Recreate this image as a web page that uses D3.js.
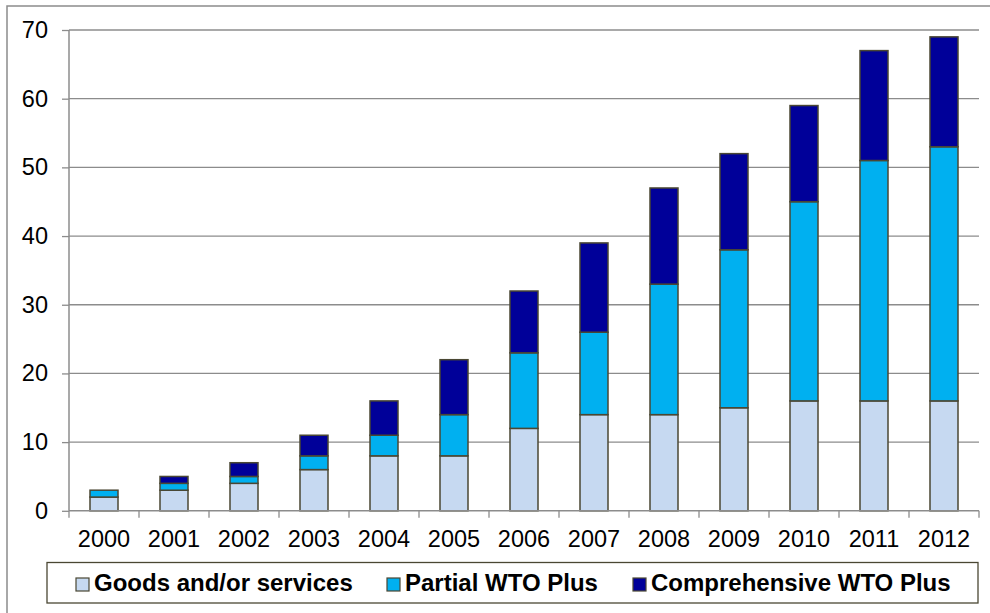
<!DOCTYPE html>
<html><head><meta charset="utf-8">
<script src="https://cdn.jsdelivr.net/npm/d3@7"></script>
<style>body{margin:0;background:#fff}svg{display:block}text{font-family:"Liberation Sans",Arial,sans-serif}</style>
</head><body>
<svg id="c" width="990" height="613"></svg>
<script>
const years = ["2000","2001","2002","2003","2004","2005","2006","2007","2008","2009","2010","2011","2012"];
const goods = [2,3,4,6,8,8,12,14,14,15,16,16,16];
const partial = [1,1,1,2,3,6,11,12,19,23,29,35,37];
const comprehensive = [0,1,2,3,5,8,9,13,14,14,14,16,16];
const seriesNames = ["Goods and/or services","Partial WTO Plus","Comprehensive WTO Plus"];
const colors = ["#c6d9f1","#00b0f0","#000099"];
const yTicks = [0,10,20,30,40,50,60,70];

const svg = d3.select("#c");
svg.append("rect").attr("x",7).attr("y",6).attr("width",1000).attr("height",620)
  .attr("fill","none").attr("stroke","#8c8c8c").attr("stroke-width",1.5);

const L=69, R=979, T=30, B=510.8;
const x = d3.scaleBand().domain(years).range([L,R]).paddingInner(0.6).paddingOuter(0.3);
const xb = d3.scaleBand().domain(years).range([L,R]);
const y = d3.scaleLinear().domain([0,70]).range([B,T]);

// gridlines
svg.append("g").selectAll("line").data(yTicks.filter(d=>d>0)).join("line")
  .attr("x1",L).attr("x2",R).attr("y1",d=>y(d)).attr("y2",d=>y(d))
  .attr("stroke","#8c8c8c").attr("stroke-width",1.3);

const table = years.map((yr,i)=>({year:yr,g:goods[i],p:partial[i],c:comprehensive[i]}));
const stack = d3.stack().keys(["g","p","c"])(table);
svg.append("g").selectAll("g").data(stack).join("g").attr("fill",(d,i)=>colors[i])
  .selectAll("rect").data(d=>d.filter(v=>v[1]-v[0]>0)).join("rect")
  .attr("x",d=>x(d.data.year)).attr("width",x.bandwidth())
  .attr("y",d=>y(d[1])).attr("height",d=>y(d[0])-y(d[1]))
  .attr("stroke","#4a4733").attr("stroke-width",1.5);

// y axis
const ya = svg.append("g").attr("transform",`translate(${L},0)`)
  .call(d3.axisLeft(y).tickValues(yTicks).tickSize(7).tickPadding(14));
ya.attr("font-size",null).attr("font-family",null);
ya.select(".domain").attr("stroke","#8c8c8c").attr("stroke-width",1.5).attr("d",`M0,${T}V${B}`);
ya.selectAll(".tick line").attr("stroke","#8c8c8c").attr("stroke-width",1.3);
ya.selectAll("text").style("font-size","23.5px").attr("fill","#000");

// x axis
const xa = svg.append("g").attr("transform",`translate(0,${B})`)
  .call(d3.axisBottom(xb).tickSize(0).tickPadding(19));
xa.attr("font-size",null).attr("font-family",null);
xa.select(".domain").attr("stroke","#8c8c8c").attr("stroke-width",1.5).attr("d",`M${L},0H${R}`);
xa.selectAll("text").style("font-size","23.5px").attr("fill","#000").attr("dy",null).attr("y",36.5);
xa.selectAll(".bt").data(d3.range(years.length+1)).join("line")
  .attr("x1",i=>L+i*xb.step()).attr("x2",i=>L+i*xb.step()).attr("y1",0).attr("y2",7)
  .attr("stroke","#8c8c8c").attr("stroke-width",1.3);

// legend
const lg = svg.append("g");
lg.append("rect").attr("x",47).attr("y",562.5).attr("width",931).attr("height",40.5)
  .attr("fill","#fff").attr("stroke","#4a4733").attr("stroke-width",1.3);
const lx = [76,387,633];
seriesNames.forEach((n,i)=>{
  lg.append("rect").attr("x",lx[i]).attr("y",578).attr("width",13).attr("height",13)
    .attr("fill",colors[i]).attr("stroke","#4a4733").attr("stroke-width",1.2);
  lg.append("text").attr("x",lx[i]+18).attr("y",591).style("font-size","24px")
    .attr("font-weight","bold").attr("fill","#000").text(n);
});
</script>
</body></html>
